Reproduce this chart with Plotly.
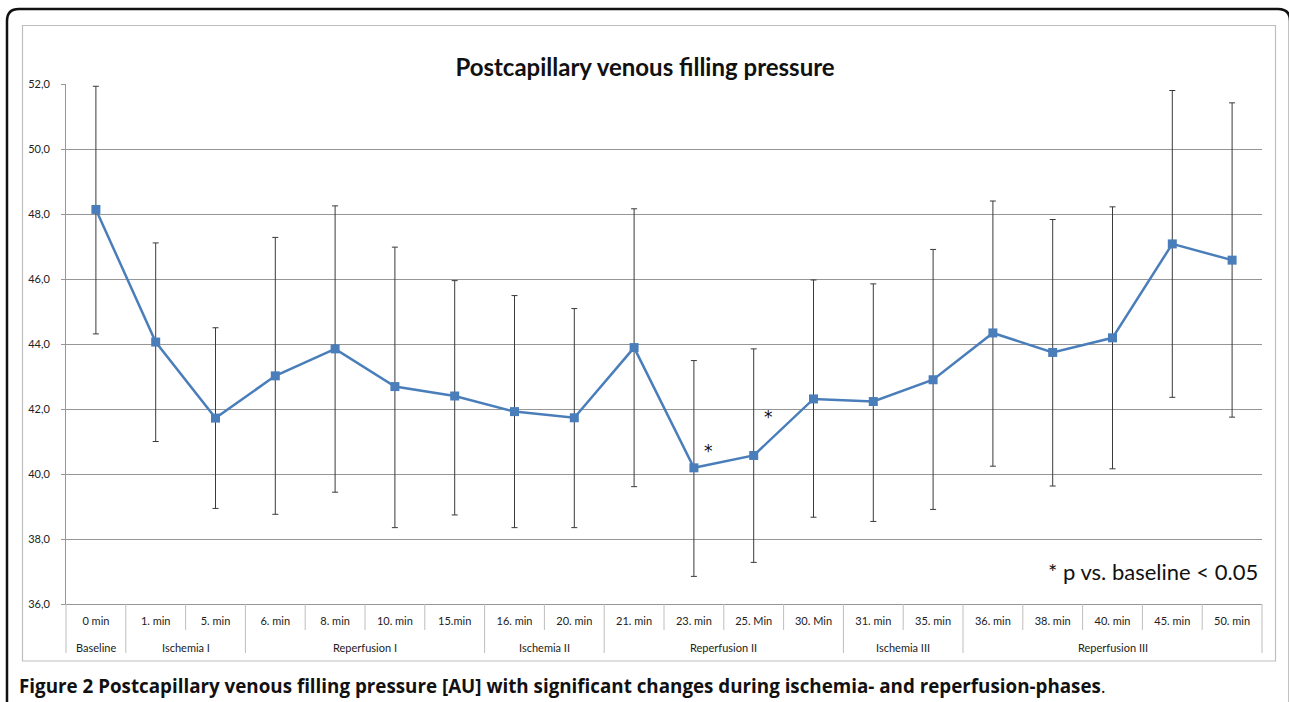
import plotly.graph_objects as go

# ---------------- data ----------------
time_labels = ["0 min", "1. min", "5. min", "6. min", "8. min", "10. min", "15.min",
               "16. min", "20. min", "21. min", "23. min", "25. Min", "30. Min",
               "31. min", "35. min", "36. min", "38. min", "40. min", "45. min", "50. min"]
phase_labels = ["Baseline", "Ischemia I", "Ischemia I",
                "Reperfusion I", "Reperfusion I", "Reperfusion I", "Reperfusion I",
                "Ischemia II", "Ischemia II",
                "Reperfusion II", "Reperfusion II", "Reperfusion II", "Reperfusion II",
                "Ischemia III", "Ischemia III",
                "Reperfusion III", "Reperfusion III", "Reperfusion III", "Reperfusion III", "Reperfusion III"]
mean_values = [48.14, 44.06, 41.72, 43.02, 43.85, 42.69, 42.40, 41.92, 41.73, 43.89,
               40.19, 40.57, 42.31, 42.23, 42.90, 44.34, 43.74, 44.19, 47.08, 46.58]
upper_values = [51.93, 47.11, 44.50, 47.28, 48.25, 46.98, 45.95, 45.49, 45.09, 48.16,
                43.49, 43.85, 45.97, 45.85, 46.91, 48.40, 47.83, 48.22, 51.80, 51.42]
lower_values = [44.31, 41.00, 38.94, 38.76, 39.44, 38.35, 38.74, 38.35, 38.35, 39.61,
                36.85, 37.28, 38.67, 38.54, 38.91, 40.24, 39.63, 40.16, 42.36, 41.75]
significant = [False, False, False, False, False, False, False, False, False, False,
               True, True, False, False, False, False, False, False, False, False]
star_offsets = [0, 0, 0, 0, 0, 0, 0, 0, 0, 0, 0.53, 1.18, 0, 0, 0, 0, 0, 0, 0, 0]
y_ticks = [36, 38, 40, 42, 44, 46, 48, 50, 52]

title_text = "Postcapillary venous filling pressure"
note_text = "* p vs. baseline < 0.05"
caption_text = ("<b>Figure 2</b> <b>Postcapillary venous filling pressure [AU] with significant "
                "changes during ischemia- and reperfusion-phases</b>.")

# ---------------- layout geometry (pixels) ----------------
W, H = 1289, 702
ML, MR, MT, MB = 66, 27, 84, 98
PW = W - ML - MR
PH = H - MT - MB


def px_x(px):
    return (px - ML) / PW


def px_y(py):
    return (H - MB - py) / PH


n = len(time_labels)
err_plus = [u - m for u, m in zip(upper_values, mean_values)]
err_minus = [m - l for m, l in zip(mean_values, lower_values)]

BLUE = "#4A7EBB"
GRID = "#969696"
TABLE = "#BEBEBE"
LABEL_FONT = dict(family="Lato", size=11, color="#222")

fig = go.Figure()
fig.add_trace(go.Scatter(
    x=time_labels,
    y=mean_values,
    mode="lines+markers",
    line=dict(color=BLUE, width=2.5),
    marker=dict(symbol="square", size=9, color=BLUE),
    error_y=dict(type="data", symmetric=False, array=err_plus, arrayminus=err_minus,
                 color="#3a3a3a", thickness=1, width=3),
    showlegend=False,
))

annotations = []
# significance stars
for i, (sig, off) in enumerate(zip(significant, star_offsets)):
    if sig:
        annotations.append(dict(
            xref="paper", yref="y", x=(i + 0.75) / n, y=mean_values[i] + off,
            text="*", showarrow=False, font=dict(family="DejaVu Sans", size=17, color="#111"),
            xanchor="center", yanchor="middle"))

# phase (second row) labels, centred over each run of equal phase labels
start = 0
for i in range(1, n + 1):
    if i == n or phase_labels[i] != phase_labels[start]:
        annotations.append(dict(
            xref="paper", yref="paper", x=(start + i) / 2 / n, y=px_y(647),
            text=phase_labels[start], showarrow=False,
            xanchor="center", yanchor="middle", font=LABEL_FONT))
        start = i

annotations.append(dict(
    xref="paper", yref="paper", x=px_x(1260), y=px_y(571), text=note_text,
    showarrow=False, xanchor="right", yanchor="middle",
    font=dict(family="Lato", size=22, color="#111")))

annotations.append(dict(
    xref="paper", yref="paper", x=px_x(17), y=px_y(686), text=caption_text,
    showarrow=False, xanchor="left", yanchor="middle",
    font=dict(family="Open Sans", size=18.8, color="#111")))

shapes = []
# category table dividers (inner rows short, phase boundaries long)
for i in range(n + 1):
    is_group_edge = (i == 0 or i == n or phase_labels[i] != phase_labels[i - 1])
    bottom = 653 if is_group_edge else 630
    shapes.append(dict(type="line", xref="paper", yref="paper",
                       x0=i / n, x1=i / n, y0=px_y(604), y1=px_y(bottom),
                       line=dict(color=TABLE, width=1)))
# chart frame (grey)
shapes.append(dict(type="rect", xref="paper", yref="paper",
                   x0=px_x(22.5), x1=px_x(1275.5), y0=px_y(661), y1=px_y(25.5),
                   line=dict(color=TABLE, width=1.2), layer="below"))
# outer black rounded frame
r = 12
pts = [(7, 720), (7, 9 + r), (7, 9), (7 + r, 9), (1290 - r, 9), (1290, 9), (1290, 9 + r), (1290, 720)]
coords = []
for (a, b) in pts:
    coords += [px_x(a), px_y(b)]
path = ("M {:.5f},{:.5f} L {:.5f},{:.5f} Q {:.5f},{:.5f} {:.5f},{:.5f} "
        "L {:.5f},{:.5f} Q {:.5f},{:.5f} {:.5f},{:.5f} L {:.5f},{:.5f}").format(*coords)
shapes.append(dict(type="path", xref="paper", yref="paper", path=path,
                   line=dict(color="#111", width=2.5)))

fig.update_layout(
    width=W, height=H,
    margin=dict(l=ML, r=MR, t=MT, b=MB),
    paper_bgcolor="white", plot_bgcolor="white",
    separators=",.",
    title=dict(text="<b>" + title_text + "</b>", x=645 / W, y=1 - 68 / H,
               xref="container", yref="container", xanchor="center", yanchor="middle",
               font=dict(family="Lato", size=24, color="#111")),
    annotations=annotations,
    shapes=shapes,
    xaxis=dict(
        type="category",
        categoryorder="array", categoryarray=time_labels,
        dtick=1,
        showgrid=False,
        showline=True, linecolor=GRID, linewidth=1,
        ticks="",
        ticklabelstandoff=7,
        tickfont=LABEL_FONT,
        range=[-0.5, n - 0.5],
    ),
    yaxis=dict(
        range=[36, 52], tickvals=y_ticks, tickformat=".1f",
        showgrid=True, gridcolor=GRID, gridwidth=1,
        showline=True, linecolor=GRID, linewidth=1,
        ticks="outside", ticklen=4, tickcolor=GRID,
        ticklabelstandoff=9,
        zeroline=False,
        tickfont=LABEL_FONT,
    ),
)

fig.write_html("out.html", config={"displayModeBar": False},
               post_script="document.body.style.margin='0px';document.body.style.overflow='hidden';")
